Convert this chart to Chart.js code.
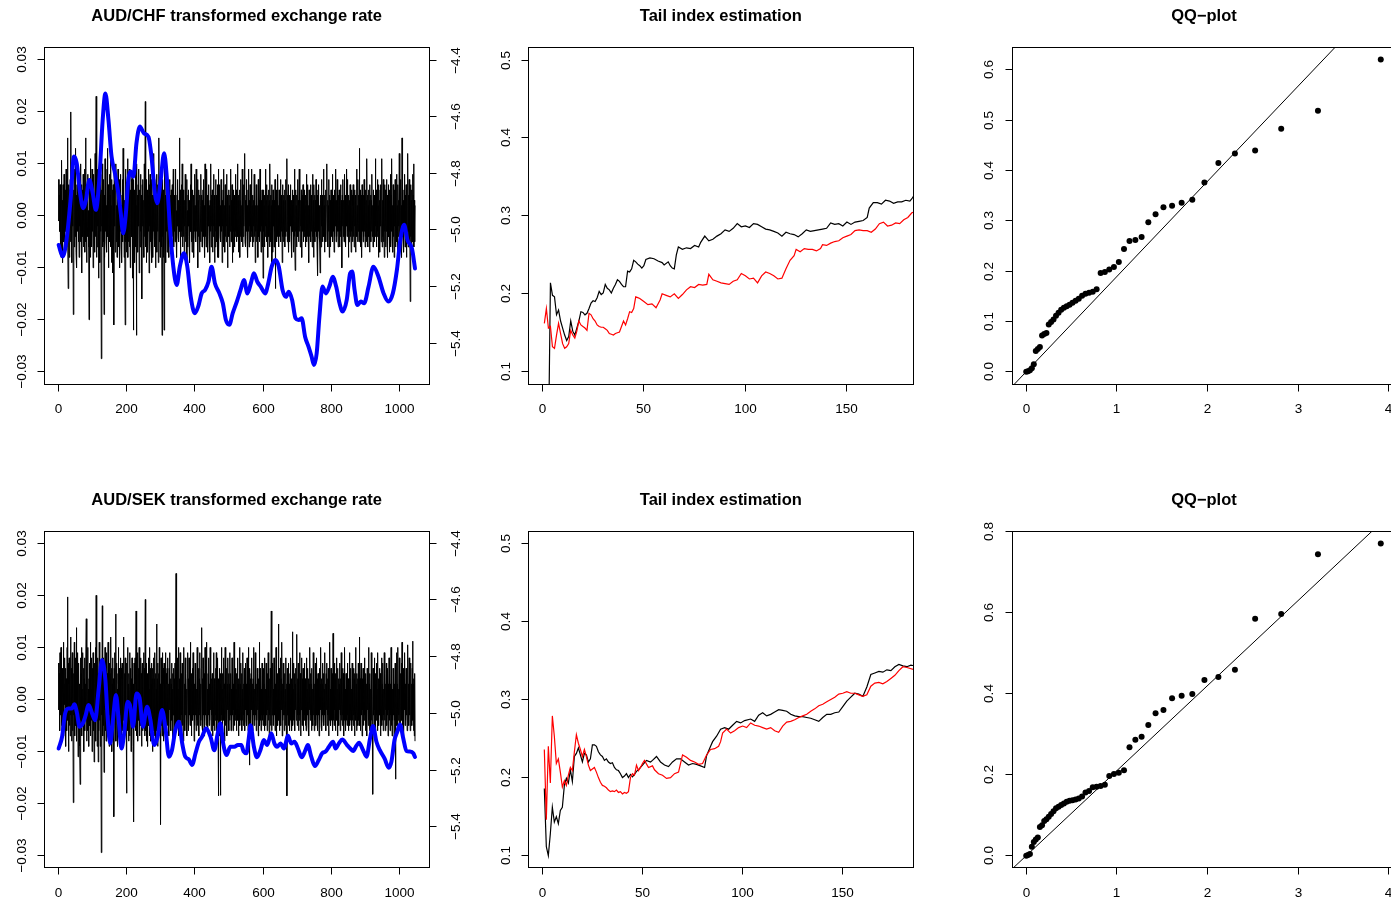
<!DOCTYPE html>
<html><head><meta charset="utf-8">
<script src="https://cdn.jsdelivr.net/npm/chart.js@4.4.1/dist/chart.umd.min.js"></script>
<style>
html,body{margin:0;padding:0;background:#fff;width:1391px;height:902px;overflow:hidden;position:relative}
canvas{position:absolute;left:0;top:0}
</style></head><body>
<canvas id="c1" width="1400" height="902"></canvas>
<canvas id="c2" width="1400" height="902"></canvas>
<canvas id="c3" width="1400" height="902"></canvas>
<canvas id="c4" width="1400" height="902"></canvas>
<canvas id="c5" width="1400" height="902"></canvas>
<canvas id="c6" width="1400" height="902"></canvas>
<script>
// ---------- DATA ----------
// daily transformed returns (per mille), day 1..1045
const chfReturnsPermille = [
7,-1,4,-3,6,-6,2,-8,5,10.7,-4,3,-9,6,1,-5,8,-2,-7,4,
5,-3,9,-6,2,-1,15,-4,-14,6,3,-8,5,-2,7,-5,20,-3,4,-9,
6,-2,8,-19,3,5,-6,9,-4,2,13,-7,4,-10,6,-3,1,8,-5,3,
-8,4,-2,7,-5,10,-3,6,-11,2,5,-4,8,-6,3,-2,9,-7,4,15,
-5,3,-9,6,-2,8,-4,1,-6,-20,7,-3,5,-8,11,-2,4,-6,9,-3,
6,-10,3,8,-5,2,-7,12,-4,5,23,-8,3,-6,9,-2,5,-12,7,-4,
4,-9,6,-3,8,-27.5,5,-2,10,-6,3,-5,7,-19,4,-8,11,-3,6,-5,
2,-7,9,13,-4,6,-10,3,-2,8,-5,4,14,-6,2,-9,7,-3,5,-11,
6,-4,-21,8,-2,5,-7,3,10,-5,2,-8,6,-3,9,-6,4,-2,7,-10,
5,-3,8,-6,2,-9,4,7,-5,13,-2,6,-8,3,-4,-21,9,-5,3,-7,
6,-2,11,-8,4,-5,2,9,-6,3,-10,5,-3,7,-4,8,-12,2,6,-22,
7,-4,5,-9,3,8,-6,2,-23,10,-5,4,-7,6,-2,9,-11,3,5,-6,
8,-3,4,-9,-16,6,-2,7,-5,3,-8,10,-4,5,22,-6,3,-9,7,-2,
5,-7,4,-3,9,-11,6,-2,8,-5,3,-6,7,-9,4,2,-8,6,-3,12,
-4,7,-6,3,-10,5,-2,8,-7,4,-3,6,-9,2,15,-5,3,-8,6,-4,
9,-6,2,-23,7,-4,5,-8,3,-22,6,12,-5,4,-9,7,-3,5,-7,2,
6,-4,3,-8,5,-2,7,-6,4,-3,5,-5,2,6,-4,3,9,-6,2,-3,
4,-5,2,9,-3,1,-8,4,-2,7,-4,3,-5,2,15,-3,5,-9,2,-4,
6,-3,10,-6,1,5,-4,2,-7,3,-2,8,-5,3,-3,7,-9,1,-6,4,
-2,5,-4,3,-9,2,6,-3,10,-5,1,-7,3,5,-2,4,-8,2,-3,8,
-4,2,-5,9,-3,4,-2,7,-10,3,-4,5,-1,-7,4,2,-5,8,-3,4,
-6,3,-2,5,-4,7,-3,2,-8,10,-4,3,-6,2,9,-3,4,-7,3,-2,
6,-4,2,-9,3,-3,10,-6,4,-2,5,-7,3,-4,8,-2,4,-9,2,-6,
7,-3,4,-5,2,-8,6,-3,9,-8,3,-2,6,-4,2,-5,7,-3,4,-9,
3,-2,5,-6,9,-3,2,-7,6,-4,3,-5,8,-2,4,-10,3,-3,5,-4,
2,-6,4,-3,9,-5,3,-2,6,-9,1,-7,5,-3,4,-6,2,-4,8,-3,
5,-5,2,-3,10,-4,3,-7,4,-2,5,-8,3,-4,7,-3,2,-5,9,-6,
3,-4,6,-2,5,12,-5,3,-6,4,-3,7,-4,2,-8,5,-3,9,-6,3,
-2,6,-5,3,-4,9,-3,2,-6,4,-5,3,-2,8,-4,5,-9,2,-3,6,
-5,4,-3,2,-8,7,-4,3,-5,2,9,-3,4,-7,3,-2,5,-6,4,-12,
5,-3,2,-6,4,-4,9,-2,3,-5,6,-3,4,-8,2,5,-4,3,-6,10,
-3,4,-5,2,6,-9,3,-7,5,-2,4,-6,3,-3,7,-14,4,-2,5,-5,
3,-4,8,-3,2,-6,5,-4,3,-2,7,-5,4,-3,2,-9,6,-4,3,-5,
4,-2,5,-6,3,-4,7,-3,2,11,-5,4,-3,6,-7,2,4,-5,3,-2,
6,-4,3,-8,2,5,-3,4,-7,3,-2,9,-4,-10.5,5,-3,2,-6,4,-3,
7,-4,3,-5,2,9,-3,4,-6,3,-2,5,-8,4,-3,2,6,-5,3,-4,
5,-3,2,-6,4,-2,8,-5,3,-4,6,-3,2,-9,5,-4,3,-2,6,-5,
4,-3,2,-6,8,-4,3,-8,6,-2,4,-5,3,-3,7,-4,2,-6,4,-11.5,
5,-3,6,-4,2,-5,-11,4,3,-6,7,-2,4,-5,3,-3,9,-4,2,-7,
4,-3,5,-5,2,6,10,-4,3,-6,2,-3,7,-8,4,-2,3,-6,5,-4,
3,-2,8,-5,4,-3,2,-7,5,-4,3,-2,9,-5,3,-4,7,-3,2,-6,
4,-3,5,-6,2,-4,6,-3,3,-5,-10,4,-2,7,-4,3,-5,2,8,-3,
4,-6,3,-2,9,-4,7,-3,2,-8,4,-5,3,-3,6,-4,2,-7,5,-3,
4,-5,2,6,-4,3,-6,5,-2,4,-7,3,-3,9,-4,2,-5,7,-3,4,
-5,13,-4,3,-6,5,-2,4,-8,6,-3,2,-5,4,-4,7,-3,2,-6,5,
-4,3,-5,11,-3,4,-6,2,5,-4,3,-7,6,-2,4,-5,3,-3,8,-4,
2,-6,5,-3,4,-5,3,-4,11,-2,5,-6,3,-4,7,-3,2,-8,6,-4,
3,-7,5,-2,6,-5,4,11,-6,3,-4,7,-5,2,-8,6,-3,5,-6,4,
-3,7,-5,4,-8,2,6,-4,3,-7,5,-2,8,-6,4,-3,11,-5,2,-7,
6,-4,3,-8,5,-2,7,-6,4,-3,8,-5,2,-7,6,-4,3,-2,12,-6,
4,-5,7,-3,2,-8,15,-4,6,-5,3,-7,5,-2,8,-6,4,-3,6,-8,
5,-4,3,12,-6,4,-3,7,-5,2,-16.5,6,-4,3,-7,5,-2,8,-5,4,
10,-6,3,-5,2];
const sekReturnsPermille = [
7,-2,5,-6,9,-3,1,10,-5,4,-8,6,2,-4,11,-7,3,-1,8,-5,
6,-9,4,2,-6,10,19.7,-4,7,-10,3,8,-5,2,-7,12,-3,6,-8,4,
9,-6,2,-19.8,5,-3,11,-7,4,8,-5,3,13.8,-8,6,-2,9,-11,4,7,
-6,3,-9,-16.3,8,-4,5,10,-7,2,-5,9,-3,6,-10,4,8,-6,3,-4,
7,15.5,-8,5,-3,10,-6,2,-9,4,7,-5,3,11,-7,2,-4,8,-10,6,
-3,9,-6,4,-12,7,3,-5,10,-8,20,-4,6,-9,3,8,-12,5,-6,11,
-4,7,-9,3,6,-29.4,5,-3,18,-7,4,-5,8,-14,6,-2,10,-6,3,-8,
9,-4,5,-7,2,11,-6,3,-9,7,-3,5,-8,12,-4,6,-10,3,8,-5,
4,-7,-22.5,6,-3,9,-5,16.4,-8,3,7,-6,2,-9,5,10,-4,6,-7,3,
-5,8,-3,6,-9,4,7,-6,3,-4,9,12,-7,5,-3,8,-6,2,-5,-18,
7,-4,10,-6,3,-8,5,2,-7,9,-3,6,-10,4,-5,8,-2,6,-9,3,
-23.5,7,-5,4,8,-6,3,17,-7,5,-3,9,-8,2,6,-4,10,-7,3,-5,
8,-3,5,-9,4,7,-6,3,-5,9,-4,6,-7,2,19.2,-6,4,-8,7,-3,
5,-9,3,8,-5,2,-7,10,-4,6,-8,3,7,-5,4,-10,6,-3,8,-6,
4,-7,9,-3,5,-8,2,14.5,-6,4,-9,7,-3,5,-7,10,-4,3,-6,-24,
8,-5,4,-7,9,-3,6,-8,3,7,-5,2,-6,9,-4,5,-7,3,6,-5,
8,-4,3,-7,6,-2,9,-5,4,-6,3,7,-4,2,-8,5,-3,6,-6,4,
-3,7,-5,4,24.2,-6,3,-4,8,-5,2,-7,10,-3,4,-5,9,-4,3,-6,
5,-3,7,-5,2,-8,4,10,-4,3,-6,8,-3,5,-5,2,-7,4,9,-3,
4,-6,8,-3,2,-5,11,-4,3,-7,5,-2,6,-4,9,-3,4,-8,3,-5,
7,-3,5,-6,2,-4,10,-5,3,-2,6,-7,4,-3,9,-5,3,-4,6,13.8,
-5,4,-6,8,-3,2,-7,5,-4,10,-3,3,-5,7,11,-4,2,-6,5,-3,
8,-5,3,-4,10,-2,7,-6,4,-3,5,-7,3,-2,9,-5,4,-6,3,-4,
6,-3,9,-6,2,-4,8,-5,-18.5,4,-3,6,-7,3,-18.4,5,-4,10,-3,2,
-6,5,-3,8,-4,3,-8,2,10,-5,4,-3,6,-7,3,-2,8,-4,5,-6,
3,-4,9,-3,5,-6,2,-5,8,-3,4,-6,3,-2,11,-5,4,-4,6,-3,
2,-6,5,-3,8,-4,3,-7,4,-2,10,-5,3,-4,7,-3,5,-6,2,-4,
9,-5,3,-3,6,-6,4,-2,7,-4,3,-5,8,-3,2,-6,10,-4,3,-12.6,
6,-3,4,-7,5,-2,8,-4,3,-6,4,-3,10,-5,2,-4,9,-3,5,-6,
3,-4,6,-2,5,-7,4,-3,11,-5,3,-4,6,-6,2,-3,7,-4,4,-5,
6,-3,3,-6,8,-4,2,-5,7,-3,4,-6,5,-2,9,-4,3,-7,4,-3,
6,-5,3,17,-6,4,-3,7,-5,2,-4,8,-3,5,-6,3,-4,10,-7,4,
-3,5,-5,2,14.5,-4,6,-6,3,-3,8,-5,4,-2,11,-7,3,-4,7,-3,
4,-6,5,-3,2,-5,8,-4,3,-18.5,6,-3,4,-5,7,-2,3,-6,5,-4,
8,-3,4,-6,3,13,-5,2,-4,7,-3,5,-6,3,-2,6,-4,3,12.5,-5,
4,-3,7,-6,2,-4,9,-3,5,-7,3,-2,8,-5,4,-3,6,-6,2,-4,
7,-3,4,-5,3,-6,8,-4,2,-3,6,-5,4,-7,3,-2,10,-4,5,-3,
3,-6,6,-4,2,-5,9,-3,4,-6,3,-4,7,-5,2,-3,8,-4,4,-6,
5,-3,2,-7,6,-4,3,-2,10,-5,4,-6,3,-3,7,-4,5,-5,2,-3,
9,-4,3,-6,5,-2,7,-5,4,-3,6,-7,3,-4,11,-3,2,-5,6,-4,
4,-3,5,-6,12.7,-4,3,-5,7,-2,4,-6,5,-3,8,-4,2,-7,6,-3,
4,-5,3,-2,7,-6,4,-3,9,-4,2,-5,6,-3,5,-7,3,-4,10,-3,
2,-6,5,-4,3,-5,7,-3,4,-6,3,-2,9,-5,4,-4,6,-3,2,-6,
7,-4,3,-5,6,-3,4,-7,5,-2,10,-4,3,-6,5,-3,4,-5,7,-4,
3,12,-5,4,-6,2,7,-3,5,-7,4,-2,6,-5,3,-4,8,-3,4,-6,
5,-3,3,-7,6,-2,4,-5,10,-4,3,-6,5,-3,2,-7,9,-4,3,-5,
-18.2,6,-3,4,-5,8,-2,3,-6,5,-4,7,-3,2,-6,9,-4,4,-5,3,
6,-3,5,-7,4,-2,8,-5,3,-4,7,-6,2,-3,9,-4,5,-6,3,-2,
7,-5,4,-3,6,-7,3,-2,8,-4,5,-6,3,-3,10,-5,4,-7,2,-4,
6,-3,5,-8,3,-4,7,-15.3,4,-2,9,-5,3,-6,10,-4,2,-3,8,-5,
4,-6,5,-2,7,-4,11,-5,3,-3,6,-7,4,-2,9,-5,3,-4,6,-3,
2,-6,5,10.5,-4,3,-5,8,-3,4,-6,2,7,-4,3,-5,6,11.2,-4,3,
-6,4,-7,5,-8];
// smooth trend (right axis): [day, value]
const chfTrend = [[1,-5.053],[13,-5.094],[24,-5.036],[36,-4.894],[46,-4.741],[54,-4.765],[64,-4.871],[73,-4.923],[81,-4.894],[91,-4.824],[101,-4.871],[110,-4.929],[120,-4.824],[130,-4.612],[138,-4.518],[147,-4.612],[156,-4.741],[166,-4.800],[176,-4.871],[183,-4.941],[190,-5.012],[198,-4.941],[205,-4.824],[212,-4.794],[220,-4.812],[229,-4.694],[239,-4.635],[251,-4.659],[264,-4.671],[273,-4.741],[283,-4.871],[290,-4.906],[300,-4.824],[310,-4.729],[317,-4.800],[327,-4.988],[337,-5.130],[347,-5.194],[356,-5.130],[368,-5.082],[378,-5.130],[388,-5.236],[400,-5.294],[410,-5.270],[420,-5.224],[430,-5.212],[440,-5.183],[449,-5.130],[459,-5.189],[472,-5.224],[482,-5.259],[491,-5.318],[501,-5.335],[511,-5.294],[523,-5.253],[534,-5.212],[544,-5.177],[554,-5.224],[564,-5.189],[573,-5.153],[583,-5.183],[593,-5.200],[606,-5.224],[615,-5.189],[625,-5.130],[636,-5.106],[646,-5.130],[657,-5.212],[667,-5.236],[675,-5.218],[685,-5.247],[695,-5.312],[704,-5.318],[713,-5.312],[723,-5.377],[733,-5.412],[742,-5.447],[749,-5.477],[757,-5.435],[765,-5.306],[774,-5.200],[784,-5.224],[794,-5.200],[804,-5.165],[814,-5.200],[824,-5.259],[833,-5.288],[845,-5.247],[855,-5.153],[861,-5.147],[868,-5.212],[876,-5.265],[886,-5.253],[896,-5.259],[909,-5.200],[923,-5.130],[938,-5.165],[953,-5.224],[967,-5.253],[980,-5.224],[992,-5.141],[1002,-5.036],[1013,-4.982],[1023,-5.036],[1036,-5.065],[1045,-5.136]];
const sekTrend = [[1,-5.124],[11,-5.083],[20,-5.000],[30,-4.983],[40,-4.983],[47,-4.968],[55,-5.000],[62,-5.047],[72,-5.035],[79,-5.012],[89,-4.971],[99,-5.000],[108,-5.024],[118,-4.918],[128,-4.812],[138,-4.883],[145,-5.024],[152,-5.106],[160,-5.024],[169,-4.935],[177,-5.024],[185,-5.124],[193,-5.071],[203,-4.959],[211,-4.977],[219,-5.047],[229,-4.930],[238,-4.945],[248,-5.047],[260,-4.977],[270,-5.024],[281,-5.112],[291,-5.083],[304,-4.988],[314,-5.053],[324,-5.153],[333,-5.130],[343,-5.059],[353,-5.030],[363,-5.106],[372,-5.153],[382,-5.162],[392,-5.182],[402,-5.141],[412,-5.100],[421,-5.083],[433,-5.053],[446,-5.083],[457,-5.130],[467,-5.071],[475,-5.035],[483,-5.106],[493,-5.147],[504,-5.118],[516,-5.118],[526,-5.112],[536,-5.112],[543,-5.135],[551,-5.141],[558,-5.088],[563,-5.042],[573,-5.118],[582,-5.155],[592,-5.130],[602,-5.094],[612,-5.112],[624,-5.070],[633,-5.106],[641,-5.118],[651,-5.106],[661,-5.124],[673,-5.079],[682,-5.106],[692,-5.100],[702,-5.124],[713,-5.155],[724,-5.130],[731,-5.112],[741,-5.153],[752,-5.186],[763,-5.165],[773,-5.141],[783,-5.135],[793,-5.118],[805,-5.100],[812,-5.124],[822,-5.106],[832,-5.092],[846,-5.112],[856,-5.125],[864,-5.133],[873,-5.115],[881,-5.104],[893,-5.130],[903,-5.153],[913,-5.090],[922,-5.045],[932,-5.100],[942,-5.130],[956,-5.160],[968,-5.192],[976,-5.170],[985,-5.094],[993,-5.065],[1001,-5.039],[1010,-5.085],[1020,-5.133],[1030,-5.135],[1040,-5.141],[1045,-5.154]];
// tail index estimates: [k, value]
const chfTailBlack = [[3,0.000],[4,0.214],[5,0.198],[6,0.196],[7,0.173],[8,0.179],[9,0.165],[10,0.156],[11,0.147],[12,0.140],[13,0.145],[14,0.165],[15,0.152],[16,0.147],[17,0.156],[18,0.165],[19,0.177],[20,0.176],[21,0.173],[22,0.175],[23,0.181],[24,0.188],[25,0.191],[26,0.190],[27,0.195],[28,0.203],[29,0.199],[30,0.201],[31,0.212],[32,0.207],[33,0.205],[34,0.201],[35,0.207],[36,0.212],[37,0.218],[38,0.216],[39,0.212],[40,0.209],[41,0.209],[42,0.229],[43,0.228],[44,0.232],[45,0.243],[46,0.241],[47,0.238],[48,0.236],[49,0.233],[50,0.236],[51,0.244],[53,0.246],[55,0.245],[57,0.242],[59,0.240],[60,0.237],[62,0.241],[63,0.236],[64,0.233],[65,0.232],[66,0.250],[67,0.260],[69,0.257],[71,0.259],[73,0.258],[75,0.262],[77,0.260],[78,0.266],[80,0.274],[82,0.268],[84,0.270],[86,0.274],[88,0.277],[90,0.282],[92,0.280],[94,0.284],[96,0.290],[98,0.286],[100,0.287],[102,0.285],[104,0.290],[106,0.289],[108,0.286],[110,0.283],[112,0.282],[114,0.280],[116,0.278],[118,0.274],[120,0.279],[122,0.277],[124,0.276],[126,0.273],[128,0.277],[130,0.282],[132,0.280],[134,0.281],[136,0.282],[138,0.283],[140,0.284],[142,0.291],[144,0.289],[146,0.290],[148,0.287],[150,0.292],[152,0.289],[154,0.292],[156,0.293],[158,0.294],[160,0.298],[161,0.310],[163,0.317],[165,0.317],[167,0.315],[169,0.320],[171,0.319],[173,0.316],[175,0.318],[177,0.318],[179,0.320],[181,0.319],[182,0.322],[183,0.326]];
const chfTailRed = [[1,0.162],[2,0.181],[3,0.156],[4,0.158],[5,0.132],[6,0.130],[7,0.147],[8,0.162],[9,0.149],[10,0.136],[11,0.130],[12,0.132],[13,0.136],[14,0.153],[15,0.147],[16,0.143],[17,0.152],[18,0.165],[19,0.160],[20,0.158],[21,0.156],[22,0.153],[23,0.175],[24,0.173],[25,0.168],[26,0.165],[27,0.160],[28,0.158],[29,0.157],[30,0.157],[31,0.155],[32,0.153],[33,0.149],[34,0.148],[35,0.147],[36,0.149],[37,0.150],[38,0.151],[39,0.158],[40,0.165],[41,0.160],[42,0.168],[43,0.177],[44,0.176],[45,0.181],[46,0.196],[47,0.195],[48,0.194],[49,0.192],[50,0.190],[52,0.186],[54,0.187],[56,0.182],[58,0.192],[59,0.200],[61,0.198],[63,0.196],[65,0.200],[67,0.194],[69,0.199],[71,0.205],[73,0.209],[75,0.208],[77,0.212],[79,0.211],[81,0.212],[82,0.225],[84,0.218],[86,0.216],[88,0.214],[90,0.213],[92,0.212],[94,0.216],[96,0.218],[98,0.226],[100,0.223],[102,0.219],[104,0.220],[106,0.214],[108,0.223],[110,0.228],[112,0.226],[114,0.223],[116,0.219],[118,0.220],[120,0.232],[122,0.243],[124,0.249],[125,0.257],[127,0.254],[129,0.258],[131,0.257],[133,0.257],[135,0.255],[137,0.258],[138,0.263],[140,0.262],[142,0.265],[144,0.267],[146,0.268],[148,0.272],[150,0.274],[152,0.276],[154,0.281],[156,0.282],[158,0.281],[160,0.281],[162,0.279],[164,0.283],[166,0.290],[168,0.292],[170,0.287],[172,0.288],[174,0.291],[176,0.290],[178,0.295],[180,0.298],[182,0.304],[183,0.305]];
const sekTailBlack = [[1,0.186],[2,0.1115],[3,0.100],[4,0.128],[5,0.162],[6,0.143],[7,0.150],[8,0.141],[9,0.158],[10,0.162],[11,0.190],[12,0.199],[13,0.193],[14,0.210],[15,0.195],[16,0.227],[17,0.231],[18,0.238],[19,0.229],[20,0.220],[21,0.231],[22,0.229],[23,0.220],[24,0.224],[25,0.242],[26,0.242],[27,0.240],[28,0.233],[29,0.229],[30,0.227],[31,0.222],[32,0.224],[33,0.220],[34,0.218],[35,0.219],[36,0.213],[37,0.210],[38,0.209],[39,0.205],[40,0.200],[41,0.202],[42,0.205],[43,0.200],[44,0.204],[45,0.201],[46,0.204],[47,0.208],[48,0.210],[49,0.213],[50,0.216],[52,0.222],[54,0.220],[55,0.222],[57,0.227],[59,0.220],[61,0.216],[63,0.214],[65,0.220],[67,0.224],[69,0.224],[71,0.220],[73,0.216],[75,0.218],[77,0.217],[79,0.215],[81,0.213],[82,0.228],[84,0.240],[85,0.246],[87,0.253],[89,0.262],[91,0.264],[93,0.262],[95,0.267],[97,0.272],[99,0.270],[101,0.273],[104,0.275],[106,0.272],[108,0.280],[110,0.283],[112,0.279],[114,0.281],[116,0.284],[118,0.287],[120,0.286],[122,0.285],[124,0.281],[126,0.279],[128,0.278],[130,0.278],[132,0.277],[134,0.276],[136,0.274],[138,0.272],[140,0.277],[142,0.281],[144,0.281],[146,0.283],[148,0.284],[150,0.291],[152,0.298],[154,0.303],[156,0.308],[158,0.307],[160,0.304],[162,0.316],[164,0.332],[166,0.334],[168,0.336],[170,0.335],[172,0.338],[174,0.337],[176,0.342],[178,0.345],[180,0.343],[182,0.342],[184,0.344],[186,0.343]];
const sekTailRed = [[1,0.236],[2,0.146],[3,0.240],[4,0.193],[5,0.279],[6,0.253],[7,0.218],[8,0.224],[9,0.207],[10,0.188],[11,0.196],[12,0.190],[13,0.203],[14,0.213],[15,0.209],[16,0.233],[17,0.255],[18,0.244],[19,0.236],[20,0.227],[21,0.236],[22,0.227],[23,0.216],[24,0.209],[25,0.211],[26,0.213],[27,0.207],[28,0.200],[29,0.194],[30,0.190],[31,0.189],[32,0.187],[33,0.184],[34,0.182],[35,0.183],[36,0.182],[37,0.184],[38,0.181],[39,0.182],[40,0.179],[41,0.181],[42,0.180],[43,0.182],[44,0.200],[45,0.205],[46,0.203],[47,0.216],[48,0.209],[49,0.213],[50,0.218],[51,0.222],[53,0.213],[55,0.215],[56,0.210],[58,0.205],[60,0.203],[62,0.199],[64,0.200],[66,0.205],[68,0.207],[70,0.229],[72,0.226],[74,0.222],[76,0.220],[78,0.217],[80,0.218],[82,0.229],[84,0.236],[86,0.237],[88,0.240],[89,0.246],[90,0.257],[92,0.262],[94,0.257],[96,0.260],[98,0.264],[100,0.266],[102,0.264],[104,0.270],[106,0.267],[108,0.266],[110,0.264],[112,0.262],[114,0.264],[116,0.260],[118,0.258],[120,0.266],[122,0.271],[124,0.272],[126,0.274],[128,0.277],[130,0.279],[132,0.281],[134,0.285],[136,0.288],[138,0.292],[140,0.294],[142,0.297],[144,0.300],[146,0.303],[148,0.307],[150,0.308],[152,0.310],[154,0.308],[156,0.308],[158,0.306],[160,0.304],[162,0.306],[164,0.317],[166,0.321],[168,0.322],[170,0.320],[172,0.323],[174,0.327],[176,0.331],[178,0.337],[180,0.342],[182,0.341],[186,0.338]];
// QQ-plot: theoretical exponential quantiles and sorted sample values
const qqTheoretical = [0,0.0202,0.0408,0.0619,0.0834,0.1054,0.1278,0.1508,0.1744,0.1985,0.2231,0.2485,0.2744,0.3011,0.3285,0.3567,0.3857,0.4155,0.4463,0.4780,0.5108,0.5447,0.5798,0.6162,0.6539,0.6931,0.7340,0.7765,0.8210,0.8675,0.9163,0.9676,1.0217,1.0788,1.1394,1.2040,1.2730,1.3471,1.4271,1.5141,1.6094,1.7148,1.8326,1.9661,2.1203,2.3026,2.5257,2.8134,3.2189,3.9120];
const qqChfSample = [0,0.001,0.003,0.007,0.015,0.041,0.045,0.049,0.072,0.075,0.077,0.094,0.099,0.104,0.111,0.117,0.123,0.127,0.130,0.133,0.137,0.141,0.145,0.151,0.155,0.157,0.159,0.164,0.196,0.198,0.203,0.208,0.218,0.244,0.260,0.262,0.268,0.297,0.313,0.327,0.330,0.336,0.342,0.376,0.415,0.434,0.440,0.483,0.519,0.621];
const qqSekSample = [0,0.002,0.004,0.022,0.034,0.040,0.045,0.071,0.075,0.086,0.090,0.096,0.103,0.110,0.117,0.121,0.125,0.129,0.133,0.136,0.137,0.139,0.141,0.146,0.156,0.160,0.169,0.170,0.172,0.175,0.197,0.202,0.205,0.211,0.268,0.286,0.294,0.323,0.352,0.360,0.389,0.395,0.399,0.434,0.441,0.459,0.585,0.597,0.744,0.771];
const qqChfLine = {intercept:0, slope:0.1893};
const qqSekLine = {intercept:0, slope:0.21};
// ticks
const ratesDayTicks = [0,200,400,600,800,1000];
const returnTicks = [-0.03,-0.02,-0.01,0,0.01,0.02,0.03];
const returnLabels = ['\u22120.03','\u22120.02','\u22120.01','0.00','0.01','0.02','0.03'];
const trendTicks = [-5.4,-5.2,-5.0,-4.8,-4.6,-4.4];
const trendLabels = ['\u22125.4','\u22125.2','\u22125.0','\u22124.8','\u22124.6','\u22124.4'];
const tailKTicks = [0,50,100,150];
const tailTicks = [0.1,0.2,0.3,0.4,0.5];
const tailLabels = ['0.1','0.2','0.3','0.4','0.5'];
const qqXTicks = [0,1,2,3,4];
const qqChfYTicks = [0,0.1,0.2,0.3,0.4,0.5,0.6];
const qqChfYLabels = ['0.0','0.1','0.2','0.3','0.4','0.5','0.6'];
const qqSekYTicks = [0,0.2,0.4,0.6,0.8];
const qqSekYLabels = ['0.0','0.2','0.4','0.6','0.8'];

// ---------- RENDER ----------
const CW = 1400, CH = 902;
const FONT = '"Liberation Sans", Arial, Helvetica, sans-serif';
function rAxes(cfg){
  return {id:'rAxes', afterDraw(chart){
    const ctx = chart.ctx, a = chart.chartArea, S = chart.scales;
    const fs = 13.5, cap = 0.358*fs, tl = 7;
    const snap = v => Math.round(v - 0.5) + 0.5;
    ctx.save();
    ctx.strokeStyle = '#000'; ctx.fillStyle = '#000'; ctx.lineWidth = 1;
    const L = snap(a.left), R = snap(a.right), T = snap(a.top), B = snap(a.bottom);
    ctx.strokeRect(L, T, R - L, B - T);
    ctx.font = fs + 'px ' + FONT;
    if (cfg.bottom){
      const s = S.x, px = cfg.bottom.ticks.map(v => snap(s.getPixelForValue(v)));
      ctx.beginPath(); ctx.moveTo(px[0], B); ctx.lineTo(px[px.length-1], B);
      px.forEach(p => { ctx.moveTo(p, B); ctx.lineTo(p, B + tl); });
      ctx.stroke();
      ctx.textAlign = 'center'; ctx.textBaseline = 'alphabetic';
      px.forEach((p,i) => ctx.fillText(cfg.bottom.labels[i], p, a.bottom + 24 + cap));
    }
    const side = (c, id, dir) => {
      const s = S[id], X = dir < 0 ? L : R;
      const py = c.ticks.map(v => snap(s.getPixelForValue(v)));
      ctx.beginPath(); ctx.moveTo(X, py[0]); ctx.lineTo(X, py[py.length-1]);
      py.forEach(p => { ctx.moveTo(X, p); ctx.lineTo(X + dir*tl, p); });
      ctx.stroke();
      const xc = dir < 0 ? a.left - 23.5 : a.right + 26;
      py.forEach((p,i) => {
        ctx.save(); ctx.translate(xc + cap, p); ctx.rotate(-Math.PI/2);
        ctx.textAlign = 'center'; ctx.textBaseline = 'alphabetic';
        ctx.fillText(c.labels[i], 0, 0); ctx.restore();
      });
    };
    if (cfg.left) side(cfg.left, 'y', -1);
    if (cfg.right) side(cfg.right, 'y2', 1);
    ctx.font = 'bold 16.5px ' + FONT;
    ctx.textAlign = 'center'; ctx.textBaseline = 'alphabetic';
    ctx.fillText(cfg.title, (a.left + a.right)/2, a.top - 32 + 0.358*16.5);
    ctx.restore();
  }};
}
function make(id, box, scales, datasets, axes){
  new Chart(document.getElementById(id), {
    type: 'line',
    data: {datasets},
    options: {
      responsive: false, animation: false, events: [],
      layout: {padding: {left: box[0], top: box[1], right: CW - box[2], bottom: CH - box[3]}},
      plugins: {legend: {display: false}, tooltip: {enabled: false}, title: {display: false}},
      scales,
      elements: {point: {radius: 0}, line: {tension: 0}}
    },
    plugins: [rAxes(axes)]
  });
}
const pairs = arr => arr.map(p => ({x: p[0], y: p[1]}));
const returnsSeries = arr => arr.map((v,i) => ({x: i + 1, y: v/1000}));
const qqPoints = (ys) => qqTheoretical.map((x,i) => ({x, y: ys[i]}));
const qqLinePts = (ln) => [-0.3, 4.3].map(x => ({x, y: ln.intercept + ln.slope*x}));
const lin = (min, max, extra) => Object.assign({type: 'linear', display: false, min, max}, extra || {});

function ratePanel(id, box, returns, trend, title, yr, y2r){
  make(id, box,
    {x: lin(-41, 1086), y: lin(yr[0], yr[1]), y2: lin(y2r[0], y2r[1], {position: 'right'})},
    [
      {data: pairs(trend), yAxisID: 'y2', borderColor: '#0000ff', borderWidth: 4, cubicInterpolationMode: 'monotone', clip: 0, borderCapStyle: 'round', borderJoinStyle: 'round'},
      {data: returnsSeries(returns), yAxisID: 'y', borderColor: '#000', borderWidth: 1, clip: 0}
    ],
    {title, bottom: {ticks: ratesDayTicks, labels: ratesDayTicks.map(String)},
     left: {ticks: returnTicks, labels: returnLabels}, right: {ticks: trendTicks, labels: trendLabels}});
}
function tailPanel(id, box, black, red, xr, yr){
  make(id, box,
    {x: lin(xr[0], xr[1]), y: lin(yr[0], yr[1])},
    [
      {data: pairs(red), borderColor: '#ff0000', borderWidth: 1.2, clip: 0},
      {data: pairs(black), borderColor: '#000', borderWidth: 1.2, clip: 0}
    ],
    {title: 'Tail index estimation', bottom: {ticks: tailKTicks, labels: tailKTicks.map(String)},
     left: {ticks: tailTicks, labels: tailLabels}});
}
function qqPanel(id, box, sample, line, yr, yt, yl){
  make(id, box,
    {x: lin(-0.157, 4.08), y: lin(yr[0], yr[1])},
    [
      {type: 'scatter', data: qqPoints(sample), showLine: false, pointRadius: 3, pointBackgroundColor: '#000', pointBorderWidth: 0, clip: 0},
      {data: qqLinePts(line), borderColor: '#000', borderWidth: 1, clip: 0}
    ],
    {title: 'QQ\u2212plot', bottom: {ticks: qqXTicks, labels: qqXTicks.map(String)},
     left: {ticks: yt, labels: yl}});
}
ratePanel('c1', [44.3, 47, 429, 384], chfReturnsPermille, chfTrend, 'AUD/CHF transformed exchange rate', [-0.03237, 0.0325], [-5.544, -4.354]);
tailPanel('c2', [528.3, 47, 913.3, 384], chfTailBlack, chfTailRed, [-6.9, 182.7], [0.0842, 0.5167]);
qqPanel('c3', [1012, 47, 1397.6, 384], qqChfSample, qqChfLine, [-0.0245, 0.6457], qqChfYTicks, qqChfYLabels);
ratePanel('c4', [44.3, 531, 429, 867.7], sekReturnsPermille, sekTrend, 'AUD/SEK transformed exchange rate', [-0.0323, 0.03236], [-5.5447, -4.3566]);
tailPanel('c5', [528.3, 531, 913.3, 867.7], sekTailBlack, sekTailRed, [-7.0, 185.2], [0.0846, 0.5158]);
qqPanel('c6', [1012, 531, 1397.6, 867.7], qqSekSample, qqSekLine, [-0.0296, 0.8017], qqSekYTicks, qqSekYLabels);
</script>
</body></html>
